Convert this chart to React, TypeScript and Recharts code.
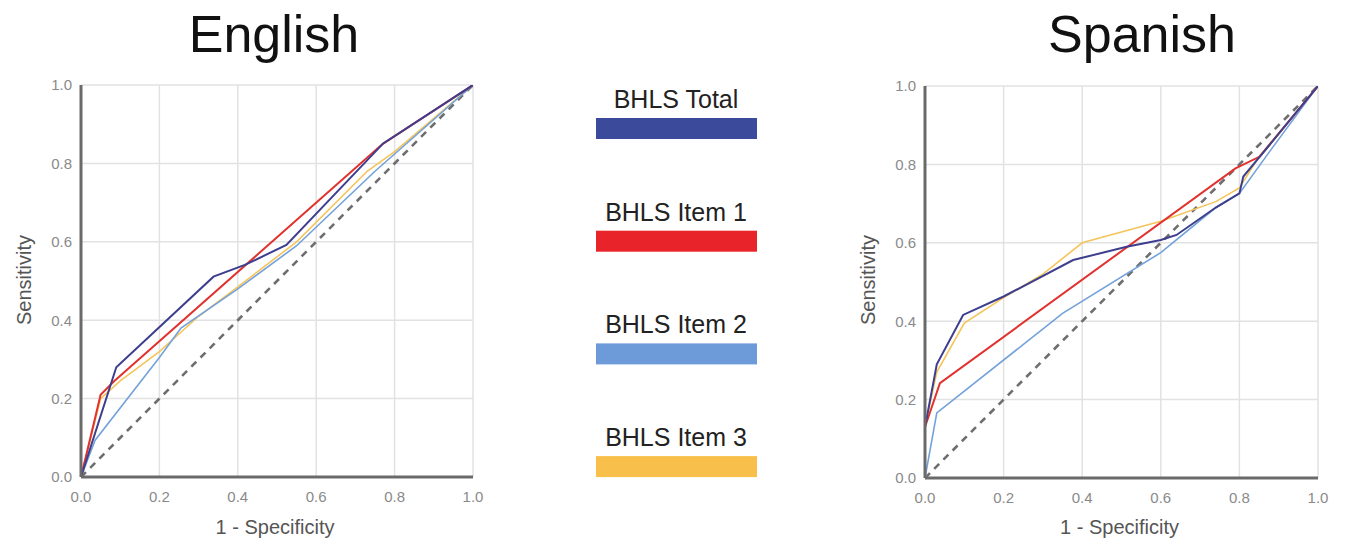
import React from "react";
import { LineChart, Line, XAxis, YAxis, CartesianGrid } from "recharts";

type Pt = { x: number; y: number };

const TICKS = [0, 0.2, 0.4, 0.6, 0.8, 1.0];
const SERIES_NAMES = ["BHLS Total", "BHLS Item 1", "BHLS Item 2", "BHLS Item 3"];
const LEGEND_COLORS = ["#3c4a9c", "#e8242a", "#6d9ad9", "#f8c04a"];
const LINE_COLORS = ["#3d3f8e", "#e0322f", "#73a2da", "#f5c45a"];
const DIAGONAL: Pt[] = [{ x: 0, y: 0 }, { x: 1, y: 1 }];

// English ROC curves
const EN_TOTAL: Pt[] = [
  { x: 0, y: 0 }, { x: 0.09, y: 0.28 }, { x: 0.338, y: 0.511 }, { x: 0.418, y: 0.541 },
  { x: 0.524, y: 0.592 }, { x: 0.771, y: 0.851 }, { x: 1, y: 1 },
];
const EN_ITEM1: Pt[] = [
  { x: 0, y: 0 }, { x: 0.05, y: 0.21 }, { x: 0.085, y: 0.245 }, { x: 0.77, y: 0.85 }, { x: 1, y: 1 },
];
const EN_ITEM2: Pt[] = [
  { x: 0, y: 0 }, { x: 0.036, y: 0.094 }, { x: 0.2, y: 0.305 }, { x: 0.255, y: 0.38 },
  { x: 0.4, y: 0.48 }, { x: 0.55, y: 0.59 }, { x: 0.75, y: 0.78 }, { x: 1, y: 1 },
];
const EN_ITEM3: Pt[] = [
  { x: 0, y: 0 }, { x: 0.05, y: 0.2 }, { x: 0.1, y: 0.245 }, { x: 0.2, y: 0.32 },
  { x: 0.3, y: 0.41 }, { x: 0.4, y: 0.485 }, { x: 0.55, y: 0.6 }, { x: 0.73, y: 0.78 },
  { x: 0.8, y: 0.83 }, { x: 1, y: 1 },
];

// Spanish ROC curves
const ES_TOTAL: Pt[] = [
  { x: 0, y: 0 }, { x: 0, y: 0.13 }, { x: 0.03, y: 0.29 }, { x: 0.097, y: 0.416 },
  { x: 0.2, y: 0.463 }, { x: 0.377, y: 0.556 }, { x: 0.513, y: 0.59 }, { x: 0.6, y: 0.607 },
  { x: 0.64, y: 0.62 }, { x: 0.74, y: 0.69 }, { x: 0.8, y: 0.726 }, { x: 0.81, y: 0.769 },
  { x: 0.852, y: 0.82 }, { x: 1, y: 1 },
];
const ES_ITEM1: Pt[] = [
  { x: 0, y: 0 }, { x: 0, y: 0.13 }, { x: 0.038, y: 0.242 }, { x: 0.79, y: 0.79 },
  { x: 0.852, y: 0.82 }, { x: 1, y: 1 },
];
const ES_ITEM2: Pt[] = [
  { x: 0, y: 0 }, { x: 0.03, y: 0.166 }, { x: 0.35, y: 0.42 }, { x: 0.6, y: 0.575 },
  { x: 0.74, y: 0.69 }, { x: 0.8, y: 0.726 }, { x: 0.88, y: 0.837 }, { x: 1, y: 1 },
];
const ES_ITEM3: Pt[] = [
  { x: 0, y: 0 }, { x: 0, y: 0.13 }, { x: 0.03, y: 0.27 }, { x: 0.1, y: 0.395 },
  { x: 0.2, y: 0.46 }, { x: 0.3, y: 0.52 }, { x: 0.4, y: 0.6 }, { x: 0.6, y: 0.655 },
  { x: 0.74, y: 0.705 }, { x: 0.8, y: 0.74 }, { x: 0.85, y: 0.82 }, { x: 1, y: 1 },
];

const EN_SERIES = [EN_TOTAL, EN_ITEM1, EN_ITEM2, EN_ITEM3];
const ES_SERIES = [ES_TOTAL, ES_ITEM1, ES_ITEM2, ES_ITEM3];

const FONT = "'Liberation Sans', Arial, Helvetica, sans-serif";
const DRAW_ORDER = [3, 2, 1, 0];
const LINE_WIDTHS = [2, 2, 1.6, 1.6];

function RocPanel(props: {
  series: Pt[][];
  width: number;
  height: number;
  margin: { top: number; right: number; bottom: number; left: number };
}) {
  const { series, width, height, margin } = props;
  return (
    <LineChart width={width} height={height} margin={margin}>
      <CartesianGrid stroke="#e2e2e2" strokeWidth={1.5} />
      <XAxis
        type="number"
        dataKey="x"
        domain={[0, 1]}
        ticks={TICKS}
        tickFormatter={(v: number) => v.toFixed(1)}
        tickLine={false}
        tickSize={0}
        tickMargin={14}
        height={30}
        axisLine={{ stroke: "#6a6a6a", strokeWidth: 3 }}
        tick={{ fill: "#8a8a8a", fontSize: 15, fontFamily: FONT }}
        allowDataOverflow
      />
      <YAxis
        type="number"
        dataKey="y"
        domain={[0, 1]}
        ticks={TICKS}
        tickFormatter={(v: number) => v.toFixed(1)}
        tickLine={false}
        tickSize={0}
        tickMargin={9}
        width={40}
        axisLine={{ stroke: "#6a6a6a", strokeWidth: 3 }}
        tick={{ fill: "#8a8a8a", fontSize: 15, fontFamily: FONT }}
        allowDataOverflow
      />
      <Line
        data={DIAGONAL}
        dataKey="y"
        type="linear"
        stroke="#6e6e6e"
        strokeWidth={2.6}
        strokeDasharray="7 6"
        dot={false}
        activeDot={false}
        isAnimationActive={false}
      />
      {DRAW_ORDER.map((i) => (
        <Line
          key={SERIES_NAMES[i]}
          name={SERIES_NAMES[i]}
          data={series[i]}
          dataKey="y"
          type="linear"
          stroke={LINE_COLORS[i]}
          strokeWidth={LINE_WIDTHS[i]}
          dot={false}
          activeDot={false}
          isAnimationActive={false}
        />
      ))}
    </LineChart>
  );
}

function AxisTitles(props: { plotLeft: number; plotRight: number; title: string; titleX: number }) {
  const { plotLeft, plotRight, title, titleX } = props;
  const cx = (plotLeft + plotRight) / 2;
  return (
    <>
      <text x={titleX} y={52} textAnchor="middle" fontSize={52} fill="#111" fontFamily={FONT}>
        {title}
      </text>
      <text x={cx - 2} y={534} textAnchor="middle" fontSize={20} fill="#555" fontFamily={FONT}>
        1 - Specificity
      </text>
      <text
        x={0}
        y={0}
        transform={`translate(${plotLeft - 50}, 280) rotate(-90)`}
        textAnchor="middle"
        fontSize={20}
        fill="#555"
        fontFamily={FONT}
      >
        Sensitivity
      </text>
    </>
  );
}

export default function App() {
  return (
    <div
      style={{
        position: "absolute",
        left: 0,
        top: 0,
        width: 1347,
        height: 545,
        background: "#fff",
        overflow: "hidden",
      }}
    >
      <div style={{ position: "absolute", left: 0, top: 0 }}>
        <RocPanel
          series={EN_SERIES}
          width={490}
          height={545}
          margin={{ top: 85, right: 17, bottom: 38, left: 41 }}
        />
      </div>
      <div style={{ position: "absolute", left: 840, top: 0 }}>
        <RocPanel
          series={ES_SERIES}
          width={500}
          height={545}
          margin={{ top: 86, right: 22, bottom: 37, left: 45 }}
        />
      </div>
      <svg
        width={1347}
        height={545}
        style={{ position: "absolute", left: 0, top: 0, pointerEvents: "none" }}
      >
        <AxisTitles plotLeft={81} plotRight={473} title="English" titleX={274} />
        <AxisTitles plotLeft={925} plotRight={1318} title="Spanish" titleX={1142} />
        {SERIES_NAMES.map((name, i) => {
          const barTop = 118 + i * 112.7;
          return (
            <g key={name}>
              <text
                x={676}
                y={barTop - 10}
                textAnchor="middle"
                fontSize={25}
                fill="#222"
                fontFamily={FONT}
              >
                {name}
              </text>
              <rect x={596} y={barTop} width={161} height={21} fill={LEGEND_COLORS[i]} />
            </g>
          );
        })}
      </svg>
    </div>
  );
}
